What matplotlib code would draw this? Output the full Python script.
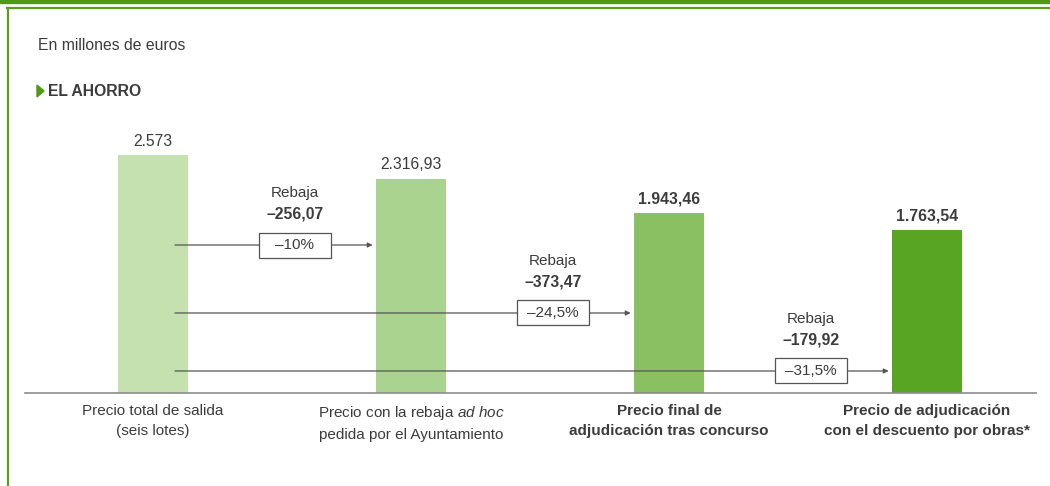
import matplotlib.pyplot as plt
from matplotlib.patches import Rectangle, Polygon
from matplotlib.lines import Line2D

plt.rcParams['font.family'] = ['Liberation Sans', 'DejaVu Sans']
plt.rcParams['mathtext.fontset'] = 'custom'
plt.rcParams['mathtext.rm'] = 'Liberation Sans'
plt.rcParams['mathtext.it'] = 'Liberation Sans:italic'

# datos (millones de euros)
categorias = [
    "Precio total de salida\n(seis lotes)",
    "Precio con la rebaja $\\it{ad\\ hoc}$\npedida por el Ayuntamiento",
    "Precio final de\nadjudicación tras concurso",
    "Precio de adjudicación\ncon el descuento por obras*",
]
valores = [2573, 2316.93, 1943.46, 1763.54]
etiquetas = ["2.573", "2.316,93", "1.943,46", "1.763,54"]
negrita = [False, False, True, True]
rebajas = ["\u2013256,07", "\u2013373,47", "\u2013179,92"]
porcentajes = ["\u201310%", "\u201324,5%", "\u201331,5%"]
altura_flecha = [1600, 865, 238]

colores = ['#c5e1b0', '#a9d38e', '#8bc062', '#57a523']
verde = '#5a9e1e'
gris = '#3c3c3c'

fig = plt.figure(figsize=(10.5, 4.86), dpi=100)

# marco verde
fig.patches.append(Rectangle((0, 1 - 3 / 486), 1, 3 / 486, transform=fig.transFigure,
                             color='#4f9a12', zorder=0))
fig.lines.append(Line2D([7 / 1050, 1], [1 - 8.5 / 486] * 2, transform=fig.transFigure,
                        color=verde, lw=1.6))
fig.lines.append(Line2D([7.5 / 1050] * 2, [0, 1 - 8.5 / 486], transform=fig.transFigure,
                        color=verde, lw=1.6))

fig.text(38 / 1050, 1 - 45 / 486, "En millones de euros", fontsize=11.3,
         color=gris, va='center', ha='left')
fig.patches.append(Polygon([[37 / 1050, 1 - 85 / 486], [37 / 1050, 1 - 97 / 486],
                            [44 / 1050, 1 - 91 / 486]], closed=True,
                           transform=fig.transFigure, color='#4f9a12'))
fig.text(48 / 1050, 1 - 91 / 486, "EL AHORRO", fontsize=11.3, fontweight='bold',
         color=gris, va='center', ha='left')

ax = fig.add_axes([25 / 1050, 93 / 486, 1011 / 1050, 263 / 486])
x = list(range(len(valores)))
ax.bar(x, valores, width=0.271, color=colores, zorder=2)
ax.set_xlim(-0.496, 3.422)
ax.set_ylim(0, 263 / 0.0925)
for s in ['top', 'right', 'left']:
    ax.spines[s].set_visible(False)
ax.spines['bottom'].set_color('#8c8c8c')
ax.spines['bottom'].set_linewidth(1.2)
ax.set_yticks([])
ax.set_xticks([])

for i, v in enumerate(valores):
    ax.annotate(etiquetas[i], (x[i], v), xytext=(0, 4.5), textcoords='offset points',
                ha='center', va='bottom', fontsize=11.3, color=gris,
                fontweight='bold' if negrita[i] else 'normal')
    ax.annotate(categorias[i], (x[i], 0), xytext=(0, -8), textcoords='offset points',
                ha='center', va='top', fontsize=11, color=gris, linespacing=1.5,
                fontweight='bold' if negrita[i] else 'normal')

caja_w = 72 / 258
caja_h = 25 / 0.0925
for j in range(len(rebajas)):
    destino = x[j + 1]
    y = altura_flecha[j]
    ax.annotate("", xy=(destino - 0.149, y), xytext=(x[0] + 0.085, y),
                arrowprops=dict(arrowstyle='-|>', mutation_scale=7, lw=0.9,
                                color='#555555', shrinkA=0, shrinkB=0), zorder=3)
    cx = destino - 0.45
    ax.add_patch(Rectangle((cx - caja_w / 2, y - caja_h / 2), caja_w, caja_h,
                           facecolor='white', edgecolor='#555555', lw=0.9, zorder=4))
    ax.text(cx, y, porcentajes[j], ha='center', va='center', fontsize=11,
            color=gris, zorder=5)
    ax.annotate(rebajas[j], (cx, y), xytext=(0, 22.5), textcoords='offset points',
                ha='center', va='center', fontsize=11.3, fontweight='bold', color=gris)
    ax.annotate("Rebaja", (cx, y), xytext=(0, 37.5), textcoords='offset points',
                ha='center', va='center', fontsize=11, color=gris)

fig.savefig("out.png", dpi=100)
